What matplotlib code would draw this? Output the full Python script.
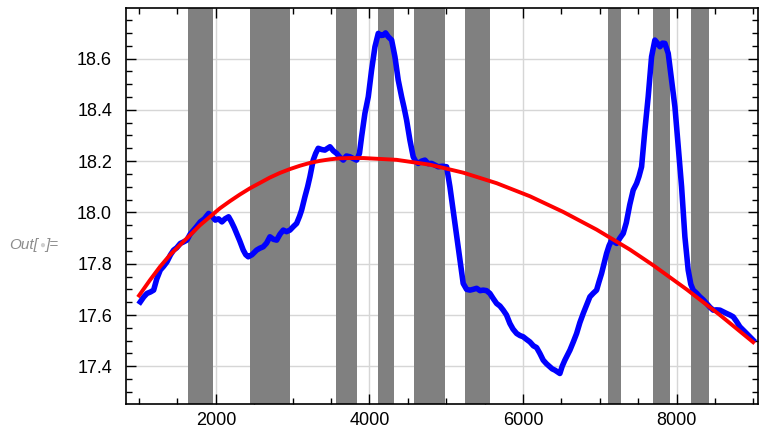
import numpy as np
import matplotlib.pyplot as plt
from matplotlib.ticker import MultipleLocator

# measured signal
t = [1016, 1060, 1103, 1150, 1190, 1230, 1276, 1320, 1363, 1410, 1450, 1490, 1537, 1580,
     1623, 1665, 1710, 1750, 1797, 1850, 1906, 1950, 1992, 2035, 2079, 2120, 2166, 2200,
     2240, 2271, 2310, 2357, 2390, 2422, 2470, 2531, 2570, 2617, 2660, 2704, 2750, 2792,
     2835, 2878, 2920, 2965, 3010, 3052, 3090, 3117, 3160, 3195, 3225, 3268, 3300, 3333,
     3380, 3420, 3455, 3486, 3530, 3573, 3615, 3659, 3700, 3746, 3790, 3833, 3870, 3898,
     3941, 3985, 4028, 4072, 4115, 4150, 4180, 4210, 4245, 4289, 4332, 4375, 4419, 4450,
     4484, 4527, 4570, 4600, 4635, 4680, 4723, 4765, 4810, 4850, 4896, 4950, 5005, 5048,
     5080, 5113, 5145, 5178, 5221, 5265, 5309, 5350, 5396, 5440, 5482, 5525, 5569, 5610,
     5656, 5700, 5742, 5785, 5829, 5870, 5917, 5960, 6003, 6045, 6090, 6135, 6177, 6220,
     6263, 6305, 6350, 6380, 6415, 6450, 6480, 6510, 6545, 6580, 6611, 6655, 6698, 6740,
     6784, 6830, 6871, 6915, 6958, 6990, 7023, 7055, 7088, 7120, 7154, 7190, 7219, 7262,
     7305, 7345, 7390, 7435, 7479, 7510, 7544, 7587, 7630, 7674, 7717, 7750, 7783, 7815,
     7848, 7891, 7935, 7978, 8021, 8065, 8108, 8151, 8185, 8216, 8260, 8303, 8345, 8391,
     8435, 8477, 8520, 8564, 8610, 8651, 8695, 8737, 8780, 8824, 8870, 8911, 8955, 8997]
y = [17.651, 17.670, 17.684, 17.690, 17.697, 17.740, 17.775, 17.790, 17.807, 17.835, 17.853,
     17.862, 17.879, 17.885, 17.892, 17.915, 17.931, 17.945, 17.963, 17.975, 17.996, 17.985,
     17.970, 17.975, 17.963, 17.975, 17.983, 17.965, 17.940, 17.918, 17.890, 17.853, 17.835,
     17.827, 17.835, 17.853, 17.860, 17.866, 17.880, 17.905, 17.895, 17.892, 17.915, 17.931,
     17.925, 17.931, 17.945, 17.957, 17.985, 18.009, 18.061, 18.100, 18.139, 18.204, 18.230,
     18.250, 18.245, 18.243, 18.250, 18.256, 18.240, 18.230, 18.215, 18.204, 18.220, 18.217,
     18.210, 18.204, 18.230, 18.295, 18.386, 18.451, 18.555, 18.646, 18.698, 18.690, 18.691,
     18.700, 18.685, 18.672, 18.607, 18.516, 18.451, 18.410, 18.360, 18.282, 18.217, 18.200,
     18.191, 18.200, 18.204, 18.190, 18.191, 18.185, 18.178, 18.180, 18.178, 18.100, 18.030,
     17.957, 17.890, 17.814, 17.723, 17.700, 17.697, 17.700, 17.704, 17.695, 17.697, 17.695,
     17.684, 17.665, 17.645, 17.635, 17.619, 17.600, 17.567, 17.545, 17.528, 17.520, 17.515,
     17.505, 17.495, 17.480, 17.473, 17.450, 17.424, 17.410, 17.398, 17.390, 17.385, 17.378,
     17.372, 17.400, 17.424, 17.445, 17.463, 17.495, 17.528, 17.570, 17.606, 17.640, 17.671,
     17.685, 17.697, 17.730, 17.762, 17.800, 17.840, 17.870, 17.892, 17.885, 17.879, 17.900,
     17.918, 17.960, 18.030, 18.087, 18.113, 18.140, 18.178, 18.321, 18.451, 18.607, 18.672,
     18.660, 18.646, 18.660, 18.659, 18.620, 18.516, 18.412, 18.256, 18.100, 17.905, 17.775,
     17.720, 17.697, 17.685, 17.671, 17.660, 17.645, 17.630, 17.619, 17.620, 17.619, 17.612,
     17.606, 17.600, 17.593, 17.575, 17.554, 17.540, 17.528, 17.515, 17.502]

# fitted trend
fit_t = [1000, 1012, 1142, 1272, 1402, 1533, 1663, 1793, 1923, 2053, 2184, 2314, 2444,
         2574, 2704, 2835, 2965, 3095, 3225, 3355, 3486, 3616, 3746, 3920, 4354, 4788,
         5221, 5656, 6090, 6523, 6958, 7392, 7695, 8130, 8564, 8997]
fit_y = [17.676, 17.681, 17.736, 17.788, 17.834, 17.873, 17.911, 17.950, 17.983, 18.016,
         18.044, 18.070, 18.094, 18.115, 18.136, 18.154, 18.169, 18.182, 18.193, 18.201,
         18.207, 18.211, 18.212, 18.212, 18.205, 18.186, 18.155, 18.114, 18.063, 18.002,
         17.933, 17.855, 17.794, 17.700, 17.600, 17.494]

# excluded intervals
bands = [(1640, 1965), (2440, 2970), (3560, 3840), (4110, 4320), (4580, 4980),
         (5240, 5570), (7110, 7270), (7690, 7920), (8190, 8420)]

plt.rcParams['font.family'] = ['Liberation Sans', 'DejaVu Sans']

fig = plt.figure(figsize=(7.6, 4.33), dpi=100)
ax = fig.add_axes([126 / 760, 29 / 433, 632 / 760, 396 / 433])

for a, b in bands:
    ax.axvspan(a, b, color='#808080', lw=0, zorder=1)

ax.plot(t, y, color='#0000ff', lw=4.0, zorder=3)
ax.plot(fit_t, fit_y, color='#ff0000', lw=2.8, zorder=4)

ax.set_xlim(830, 9060)
ax.set_ylim(17.253, 18.797)
ax.xaxis.set_major_locator(MultipleLocator(2000))
ax.xaxis.set_minor_locator(MultipleLocator(500))
ax.yaxis.set_major_locator(MultipleLocator(0.2))
ax.yaxis.set_minor_locator(MultipleLocator(0.05))
ax.yaxis.set_major_formatter(plt.FormatStrFormatter('%.1f'))
ax.grid(which='major', color='#d6d6d6', lw=1.0, zorder=0)
ax.set_axisbelow(True)

ax.tick_params(which='both', direction='in', top=True, right=True, width=1.0,
               labelsize=13, colors='black')
ax.tick_params(which='major', length=7)
ax.tick_params(which='minor', length=4)
ax.tick_params(axis='y', pad=10)
ax.tick_params(axis='x', pad=6)
for s in ax.spines.values():
    s.set_linewidth(1.2)

# cell label, built in pieces so the dot can be lighter
r = fig.canvas.get_renderer()
yl = 1 - 245 / 433
t1 = fig.text(9 / 760, yl, 'Out[', color='#8c8c8c', fontsize=11, style='italic', va='center')
x1 = t1.get_window_extent(r).x1 + 1
t2 = fig.text(x1 / 760, yl, '\u25cf', color='#cfcfcf', fontsize=7, va='center')
x2 = t2.get_window_extent(r).x1 + 1
fig.text(x2 / 760, yl, ']=', color='#8c8c8c', fontsize=11, style='italic', va='center')

fig.savefig('out.png', dpi=100)
